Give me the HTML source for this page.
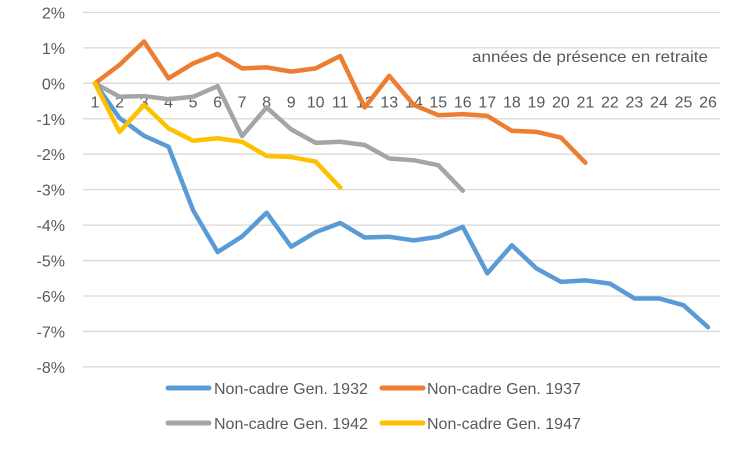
<!DOCTYPE html>
<html><head><meta charset="utf-8"><style>
body{margin:0;background:#fff}
svg text{font-family:"Liberation Sans",sans-serif;fill:#595959}
</style></head><body>
<svg id="chart" width="750" height="450" xmlns="http://www.w3.org/2000/svg">
<g id="grid"></g>
<g id="ylab"></g>
<g id="xlab"></g>
<g id="series"></g>
<text x="708" y="62" font-size="16" textLength="236" lengthAdjust="spacingAndGlyphs" text-anchor="end">années de présence en retraite</text>
<g>
<g><line x1="168" y1="388" x2="209" y2="388" stroke="#5b9bd5" stroke-width="5" stroke-linecap="round"/><text x="214" y="394" font-size="16">Non-cadre Gen. 1932</text></g>
<g><line x1="382" y1="388" x2="423" y2="388" stroke="#ed7d31" stroke-width="5" stroke-linecap="round"/><text x="427" y="394" font-size="16">Non-cadre Gen. 1937</text></g>
<g><line x1="168" y1="423" x2="209" y2="423" stroke="#a5a5a5" stroke-width="5" stroke-linecap="round"/><text x="214" y="429" font-size="16">Non-cadre Gen. 1942</text></g>
<g><line x1="382" y1="423" x2="423" y2="423" stroke="#ffc000" stroke-width="5" stroke-linecap="round"/><text x="427" y="429" font-size="16">Non-cadre Gen. 1947</text></g>
</g>
</svg>
<script>
const categories = [1,2,3,4,5,6,7,8,9,10,11,12,13,14,15,16,17,18,19,20,21,22,23,24,25,26];
const yTicks = [2,1,0,-1,-2,-3,-4,-5,-6,-7,-8];
const gen1932 = [0,-0.98,-1.48,-1.79,-3.58,-4.76,-4.32,-3.65,-4.61,-4.2,-3.94,-4.35,-4.33,-4.43,-4.33,-4.05,-5.36,-4.57,-5.22,-5.6,-5.56,-5.65,-6.07,-6.07,-6.26,-6.88];
const gen1937 = [0,0.52,1.18,0.14,0.56,0.83,0.42,0.45,0.33,0.42,0.77,-0.68,0.21,-0.61,-0.9,-0.87,-0.92,-1.34,-1.37,-1.53,-2.24];
const gen1942 = [0,-0.38,-0.36,-0.45,-0.38,-0.08,-1.49,-0.68,-1.3,-1.68,-1.65,-1.74,-2.12,-2.17,-2.31,-3.03];
const gen1947 = [0,-1.37,-0.61,-1.27,-1.62,-1.55,-1.65,-2.05,-2.08,-2.21,-2.94];
const NS='http://www.w3.org/2000/svg';
const y = v => 83.3 - v*35.45;
const x = i => 95 + i*24.52;
function mk(tag, attrs, parent){const e=document.createElementNS(NS,tag);for(const k in attrs)e.setAttribute(k,attrs[k]);parent.appendChild(e);return e;}
const grid=document.getElementById('grid'), ylab=document.getElementById('ylab'), xlab=document.getElementById('xlab'), ser=document.getElementById('series');
yTicks.forEach(t=>{
  const l=mk('line',{x1:83,x2:720,y1:y(t),y2:y(t),stroke:'#d9d9d9','stroke-width':1.3},grid);
  
  
  const tx=mk('text',{x:65,y:y(t)+6,'font-size':16,'text-anchor':'end'},ylab);
  
  
  tx.textContent=t+'%';
});
categories.forEach((c,i)=>{
  const tx=mk('text',{x:x(i),y:y(0)+24,'font-size':16,'text-anchor':'middle'},xlab);
  
  
  tx.textContent=c;
});
[[gen1942,'#a5a5a5','line-gen-1942'],[gen1932,'#5b9bd5','line-gen-1932'],[gen1937,'#ed7d31','line-gen-1937'],[gen1947,'#ffc000','line-gen-1947']].forEach(([d,col,name])=>{
  const p=mk('polyline',{points:d.map((v,i)=>x(i)+','+y(v)).join(' '),fill:'none',stroke:col,'stroke-width':4.5,'stroke-linejoin':'round','stroke-linecap':'round'},ser);
  
  
});
</script>
</body></html>
